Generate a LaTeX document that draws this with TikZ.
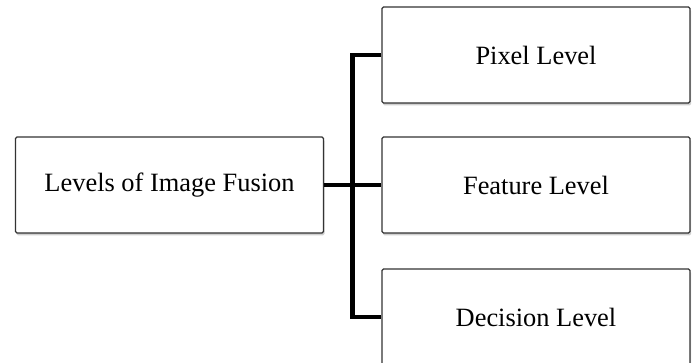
\documentclass[tikz,border=0pt]{standalone}
\usepackage{fontspec}
\setmainfont{Liberation Serif}
\usetikzlibrary{shadows}
\begin{document}
\begin{tikzpicture}[x=1pt,y=-1pt,
  levelbox/.style={draw=black!80, line width=1.3pt, fill=white, rounded corners=1.5pt,
    minimum width=308pt, minimum height=96pt, inner sep=0pt,
    font=\fontsize{26.4}{30}\selectfont,
    drop shadow={shadow xshift=1pt, shadow yshift=-2.5pt, opacity=0.3, fill=black!60}},
  bus/.style={line width=4.6pt, black}]
  \useasboundingbox (0,0) rectangle (697,363);
  \fill[white] (0,0) rectangle (697,363);

  \node[levelbox] (root) at (169.5,185) {Levels of Image Fusion};
  \node[levelbox] (pixel) at (536,55) {Pixel Level};
  \node[levelbox] (feature) at (536,185) {Feature Level};
  \node[levelbox] (decision) at (536,317) {Decision Level};

  % branching connectors
  \draw[bus] (root.east) -- (feature.west);
  \draw[bus, line join=miter] (pixel.west) -- ++(-29,0) |- (decision.west);
\end{tikzpicture}
\end{document}
